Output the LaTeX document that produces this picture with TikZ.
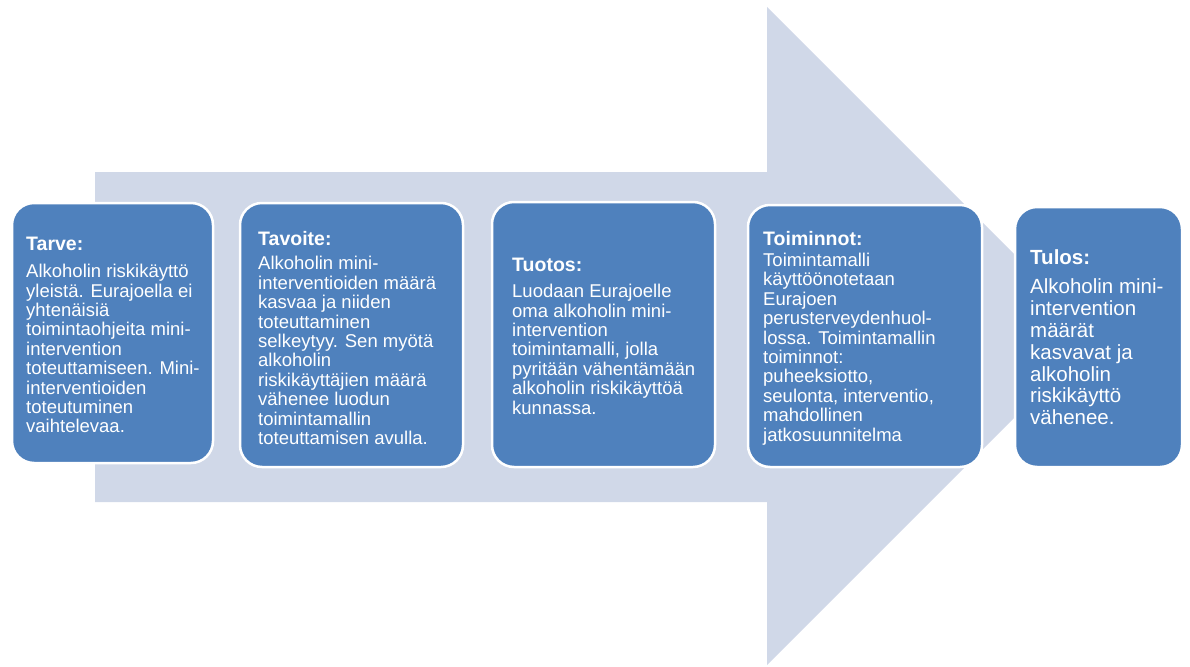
\documentclass[tikz,border=0pt]{standalone}
\usepackage{fontspec}
\setmainfont{Liberation Sans}
\definecolor{arrowfill}{HTML}{D0D8E8}
\definecolor{boxfill}{HTML}{4F81BD}
\tikzset{
  stagebox/.style={draw=white, line width=2.5pt, fill=boxfill, rounded corners=22pt, inner sep=0pt},
  stagetext/.style={anchor=west, align=left, inner sep=0pt, text=white, font=\fontsize{18.5}{19.4}\selectfont},
  bigtext/.style={anchor=west, align=left, inner sep=0pt, text=white, font=\fontsize{20.5}{21.8}\selectfont}
}
\newcommand{\stagehead}[1]{{\fontsize{19.5}{19.4}\selectfont\bfseries #1}}
\begin{document}
\begin{tikzpicture}[x=1pt,y=-1pt]
\useasboundingbox (0,0) rectangle (1190,666);
\fill[arrowfill] (95,172) -- (767,172) -- (767,7) -- (1096,336) -- (767,665) -- (767,502) -- (95,502) -- cycle;

\node[stagebox, minimum width=201pt, minimum height=260pt] (b1) at (112.5,333) {};
\node[stagebox, minimum width=223pt, minimum height=264pt] (b2) at (351.5,335) {};
\node[stagebox, minimum width=223pt, minimum height=265pt] (b3) at (603.5,334.5) {};
\node[stagebox, minimum width=234pt, minimum height=262pt] (b4) at (865,336) {};
\node[stagebox, minimum width=167pt, minimum height=260pt] (b5) at (1098.5,337) {};

\node[stagetext] (t1) at (26,335) {\stagehead{Tarve:}\\[8pt]
Alkoholin riskikäyttö\\
yleistä. Eurajoella ei\\
yhtenäisiä\\
toimintaohjeita mini-\\
intervention\\
toteuttamiseen. Mini-\\
interventioiden\\
toteutuminen\\
vaihtelevaa.};

\node[stagetext] (t2) at (258,338) {\stagehead{Tavoite:}\\[5pt]
Alkoholin mini-\\
interventioiden määrä\\
kasvaa ja niiden\\
toteuttaminen\\
selkeytyy. Sen myötä\\
alkoholin\\
riskikäyttäjien määrä\\
vähenee luodun\\
toimintamallin\\
toteuttamisen avulla.};

\node[stagetext] (t3) at (512,336) {\stagehead{Tuotos:}\\[7pt]
Luodaan Eurajoelle\\
oma alkoholin mini-\\
intervention\\
toimintamalli, jolla\\
pyritään vähentämään\\
alkoholin riskikäyttöä\\
kunnassa.};

\node[stagetext] (t4) at (763,338) {\stagehead{Toiminnot:}\\[2pt]
Toimintamalli\\
käyttöönotetaan\\
Eurajoen\\
perusterveydenhuol-\\
lossa. Toimintamallin\\
toiminnot:\\
puheeksiotto,\\
seulonta, interventio,\\
mahdollinen\\
jatkosuunnitelma};

\node[bigtext] (t5) at (1030,337) {{\bfseries Tulos:}\\[8pt]
Alkoholin mini-\\
intervention\\
määrät\\
kasvavat ja\\
alkoholin\\
riskikäyttö\\
vähenee.};
\end{tikzpicture}
\end{document}
